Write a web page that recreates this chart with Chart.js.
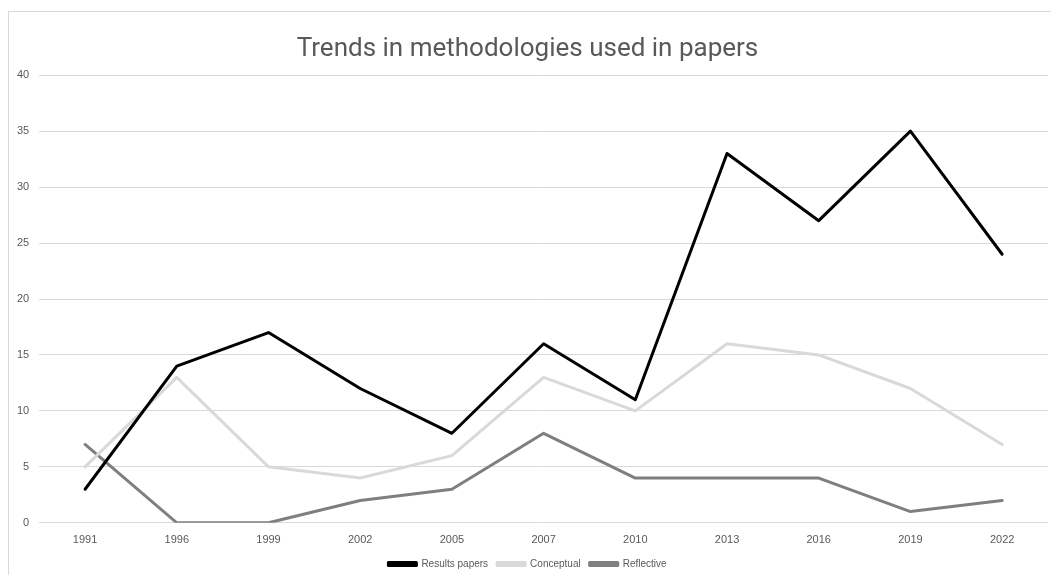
<!DOCTYPE html>
<html>
<head>
<meta charset="utf-8">
<script src="https://cdn.jsdelivr.net/npm/chart.js@4.4.1/dist/chart.umd.min.js"></script>
<style>
  html, body { margin: 0; padding: 0; background: #fff; }
  #frame {
    position: absolute; left: 8px; top: 11px; width: 1100px; height: 600px;
    border-left: 1px solid #d9d9d9; border-top: 1px solid #d9d9d9;
  }
  #wrap { position: absolute; left: 0; top: 0; width: 1051px; height: 575px; }
</style>
</head>
<body>
<div id="frame"></div>
<div id="wrap"><canvas id="trendChart" width="1051" height="575"></canvas></div>
<script>
const years = ['1991', '1996', '1999', '2002', '2005', '2007', '2010', '2013', '2016', '2019', '2022'];
const resultsPapers = [3, 14, 17, 12, 8, 16, 11, 33, 27, 35, 24];
const conceptual = [5, 13, 5, 4, 6, 13, 10, 16, 15, 12, 7];
const reflective = [7, 0, 0, 2, 3, 8, 4, 4, 4, 1, 2];

const textCol = '#595959';
const gridCol = '#d9d9d9';

Chart.defaults.font.family = "'Liberation Sans', Arial, sans-serif";
Chart.defaults.color = textCol;

function series(label, data, color) {
    return {
        label: label,
        data: data,
        borderColor: color,
        backgroundColor: color,
        borderWidth: 3,
        pointRadius: 0,
        pointHoverRadius: 0,
        borderJoinStyle: 'round',
        borderCapStyle: 'round',
        tension: 0
    };
}

new Chart(document.getElementById('trendChart'), {
    type: 'line',
    data: {
        labels: years,
        datasets: [
            series('Results papers', resultsPapers, '#000000'),
            series('Conceptual', conceptual, '#d9d9d9'),
            series('Reflective', reflective, '#7f7f7f')
        ]
    },
    options: {
        responsive: false,
        animation: false,
        layout: {
            padding: { top: 34, left: 7, right: 3, bottom: -4 }
        },
        plugins: {
            title: {
                display: true,
                text: 'Trends in methodologies used in papers',
                color: textCol,
                font: { family: 'Roboto', size: 26, weight: 'normal' },
                padding: { top: 0, bottom: 10 }
            },
            legend: {
                position: 'bottom',
                labels: {
                    boxWidth: 28,
                    boxHeight: 3,
                    padding: 9,
                    color: textCol,
                    font: { size: 10 }
                }
            },
            tooltip: { enabled: false }
        },
        scales: {
            x: {
                offset: true,
                grid: { display: false },
                border: { display: false },
                ticks: { color: textCol, font: { size: 11 }, padding: 3, maxRotation: 0 }
            },
            y: {
                min: 0,
                max: 40,
                grid: { color: gridCol, lineWidth: 1, drawTicks: false },
                border: { display: false },
                ticks: { stepSize: 5, color: textCol, font: { size: 11 }, padding: 10 }
            }
        }
    }
});
</script>
</body>
</html>
